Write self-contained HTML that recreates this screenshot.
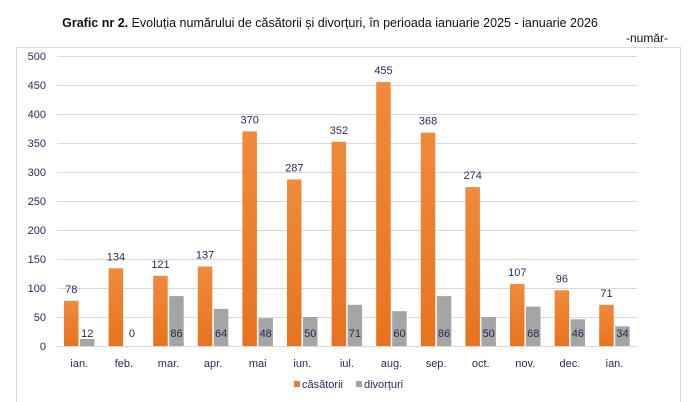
<!DOCTYPE html>
<html><head><meta charset="utf-8"><style>
html,body{margin:0;padding:0;background:#fff;}
svg{display:block;font-family:"Liberation Sans","DejaVu Sans",sans-serif;}
</style></head><body>
<svg width="695" height="402" viewBox="0 0 695 402" xmlns="http://www.w3.org/2000/svg">
<defs>
<linearGradient id="og" x1="0" y1="0" x2="0" y2="1"><stop offset="0" stop-color="#f08a3c"/><stop offset="1" stop-color="#e8731e"/></linearGradient>
</defs>
<text x="330" y="27" text-anchor="middle" font-size="12.5" fill="#111"><tspan font-weight="bold">Grafic nr 2.</tspan> Evoluția numărului de căsătorii și divorțuri, în perioada ianuarie 2025 - ianuarie 2026</text>
<text x="668" y="42" text-anchor="end" font-size="12" fill="#111">-număr-</text>
<rect x="16.5" y="47.5" width="664" height="360" fill="none" stroke="#d9d9d9"/>
<g stroke="#d9d9d9" stroke-width="1">
<line x1="57" x2="637" y1="56.5" y2="56.5"/><line x1="57" x2="637" y1="85.5" y2="85.5"/><line x1="57" x2="637" y1="114.5" y2="114.5"/><line x1="57" x2="637" y1="143.5" y2="143.5"/><line x1="57" x2="637" y1="172.5" y2="172.5"/><line x1="57" x2="637" y1="201.5" y2="201.5"/><line x1="57" x2="637" y1="230.5" y2="230.5"/><line x1="57" x2="637" y1="259.5" y2="259.5"/><line x1="57" x2="637" y1="288.5" y2="288.5"/><line x1="57" x2="637" y1="317.5" y2="317.5"/><line x1="57" x2="637" y1="346.5" y2="346.5"/>
</g>
<g font-size="11" fill="#1f2a5a" text-anchor="end">
<text x="46" y="60">500</text><text x="46" y="89">450</text><text x="46" y="118">400</text><text x="46" y="147">350</text><text x="46" y="176">300</text><text x="46" y="205">250</text><text x="46" y="234">200</text><text x="46" y="263">150</text><text x="46" y="292">100</text><text x="46" y="321">50</text><text x="46" y="350">0</text>
</g>
<g fill="url(#og)">
<rect x="64" y="300.8" width="14.5" height="45.2"/>
<rect x="108.6" y="268.3" width="14.5" height="77.7"/>
<rect x="153.2" y="275.8" width="14.5" height="70.2"/>
<rect x="197.8" y="266.5" width="14.5" height="79.5"/>
<rect x="242.4" y="131.4" width="14.5" height="214.6"/>
<rect x="287" y="179.5" width="14.5" height="166.5"/>
<rect x="331.6" y="141.8" width="14.5" height="204.2"/>
<rect x="376.2" y="82.1" width="14.5" height="263.9"/>
<rect x="420.8" y="132.6" width="14.5" height="213.4"/>
<rect x="465.4" y="187.1" width="14.5" height="158.9"/>
<rect x="510" y="283.9" width="14.5" height="62.1"/>
<rect x="554.6" y="290.3" width="14.5" height="55.7"/>
<rect x="599.2" y="304.8" width="14.5" height="41.2"/>
</g>
<g fill="#a5a5a5">
<rect x="80" y="339" width="14.5" height="7"/>
<rect x="169.2" y="296.1" width="14.5" height="49.9"/>
<rect x="213.8" y="308.9" width="14.5" height="37.1"/>
<rect x="258.4" y="318.2" width="14.5" height="27.8"/>
<rect x="303" y="317" width="14.5" height="29"/>
<rect x="347.6" y="304.8" width="14.5" height="41.2"/>
<rect x="392.2" y="311.2" width="14.5" height="34.8"/>
<rect x="436.8" y="296.1" width="14.5" height="49.9"/>
<rect x="481.4" y="317" width="14.5" height="29"/>
<rect x="526" y="306.6" width="14.5" height="39.4"/>
<rect x="570.6" y="319.3" width="14.5" height="26.7"/>
<rect x="615.2" y="326.3" width="14.5" height="19.7"/>
</g>
<g font-size="11" fill="#1f2a5a" text-anchor="middle">
<text x="71.3" y="292.8">78</text><text x="115.9" y="260.3">134</text><text x="160.5" y="267.8">121</text><text x="205.1" y="258.5">137</text><text x="249.7" y="123.4">370</text><text x="294.3" y="171.5">287</text><text x="338.9" y="133.8">352</text><text x="383.5" y="74.1">455</text><text x="428.1" y="124.6">368</text><text x="472.7" y="179.1">274</text><text x="517.3" y="275.9">107</text><text x="561.9" y="282.3">96</text><text x="606.5" y="296.8">71</text>
<text x="87.3" y="337">12</text><text x="131.9" y="337">0</text><text x="176.5" y="337">86</text><text x="221.1" y="337">64</text><text x="265.7" y="337">48</text><text x="310.3" y="337">50</text><text x="354.9" y="337">71</text><text x="399.5" y="337">60</text><text x="444.1" y="337">86</text><text x="488.7" y="337">50</text><text x="533.3" y="337">68</text><text x="577.9" y="337">46</text><text x="622.5" y="337">34</text>
</g>
<g font-size="11" fill="#1f2a5a" text-anchor="middle">
<text x="79.3" y="367">ian.</text><text x="123.9" y="367">feb.</text><text x="168.5" y="367">mar.</text><text x="213.1" y="367">apr.</text><text x="257.7" y="367">mai</text><text x="302.3" y="367">iun.</text><text x="346.9" y="367">iul.</text><text x="391.5" y="367">aug.</text><text x="436.1" y="367">sep.</text><text x="480.7" y="367">oct.</text><text x="525.3" y="367">nov.</text><text x="569.9" y="367">dec.</text><text x="614.5" y="367">ian.</text>
</g>
<rect x="294" y="381" width="6" height="6" fill="#ed7d31"/>
<text x="302" y="388" font-size="11" fill="#1f2a5a">căsătorii</text>
<rect x="356" y="381" width="6" height="6" fill="#a5a5a5"/>
<text x="364" y="388" font-size="11" fill="#1f2a5a">divorțuri</text>
</svg>
</body></html>
